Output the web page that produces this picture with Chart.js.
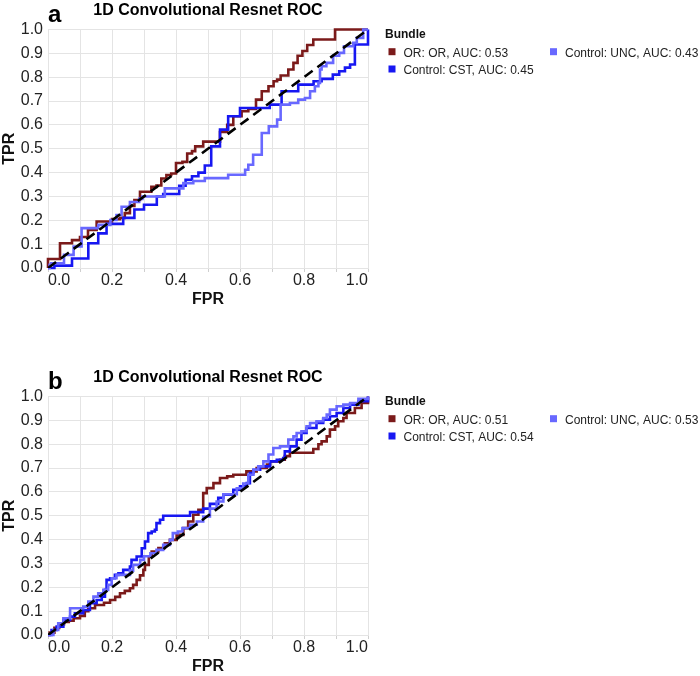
<!DOCTYPE html>
<html lang="en">
<head>
<meta charset="UTF-8">
<title>1D Convolutional Resnet ROC</title>
<style>
  body { margin: 0; background: #fff; }
  .page { position: relative; width: 700px; height: 676px; }
  .panel { position: absolute; left: 0; width: 700px; height: 309px; }
</style>
<script src="https://cdn.jsdelivr.net/npm/chart.js"></script>
</head>
<body>
<div class="page">
  <div class="panel" style="top:0"><canvas id="rocA"></canvas></div>
  <div class="panel" style="top:367px"><canvas id="rocB"></canvas></div>
</div>
<script>
// ROC points (tops of each vertical step)
const aOrFpr  = [0, 0, 0.0375, 0.075, 0.1, 0.125, 0.152, 0.2, 0.225, 0.24, 0.256, 0.27, 0.2875, 0.323, 0.339, 0.354, 0.37, 0.385, 0.4, 0.42, 0.435, 0.45, 0.46, 0.485, 0.5375, 0.56, 0.579, 0.605, 0.626, 0.65, 0.668, 0.689, 0.705, 0.716, 0.727, 0.751, 0.767, 0.78, 0.795, 0.81, 0.829, 0.897, 1];
const aOrTpr  = [0, 0.038, 0.104, 0.117, 0.13, 0.16, 0.195, 0.205, 0.21, 0.23, 0.26, 0.285, 0.32, 0.34, 0.346, 0.375, 0.39, 0.396, 0.44, 0.445, 0.48, 0.49, 0.51, 0.53, 0.57, 0.6, 0.636, 0.657, 0.667, 0.706, 0.741, 0.762, 0.783, 0.79, 0.807, 0.832, 0.86, 0.89, 0.91, 0.935, 0.958, 1, 1];
const aCstFpr = [0, 0.02, 0.075, 0.126, 0.157, 0.183, 0.235, 0.27, 0.3, 0.34, 0.36, 0.41, 0.43, 0.45, 0.47, 0.49, 0.51, 0.5375, 0.563, 0.6, 0.693, 0.73, 0.782, 0.83, 0.855, 0.89, 0.91, 0.928, 0.944, 0.959, 1];
const aCstTpr = [0, 0.01, 0.04, 0.104, 0.145, 0.185, 0.21, 0.245, 0.265, 0.3, 0.31, 0.345, 0.37, 0.385, 0.4, 0.43, 0.51, 0.58, 0.636, 0.671, 0.685, 0.741, 0.769, 0.783, 0.793, 0.811, 0.825, 0.84, 0.853, 0.937, 1];
const aUncFpr = [0, 0.005, 0.01, 0.05, 0.08, 0.105, 0.157, 0.195, 0.214, 0.23, 0.256, 0.285, 0.295, 0.365, 0.423, 0.454, 0.49, 0.563, 0.616, 0.626, 0.641, 0.668, 0.69, 0.716, 0.727, 0.756, 0.782, 0.803, 0.819, 0.834, 0.845, 0.85, 0.855, 0.87, 0.891, 0.91, 0.925, 0.954, 0.965, 0.985, 1];
const aUncTpr = [0, 0.013, 0.02, 0.055, 0.09, 0.167, 0.181, 0.201, 0.222, 0.257, 0.277, 0.29, 0.3, 0.334, 0.356, 0.365, 0.377, 0.391, 0.412, 0.433, 0.475, 0.566, 0.594, 0.622, 0.685, 0.692, 0.706, 0.713, 0.741, 0.762, 0.776, 0.832, 0.846, 0.86, 0.89, 0.902, 0.93, 0.944, 0.965, 1, 1];

const bOrFpr  = [0, 0.005, 0.02, 0.035, 0.05, 0.065, 0.08, 0.1, 0.115, 0.126, 0.147, 0.175, 0.194, 0.21, 0.225, 0.24, 0.256, 0.266, 0.277, 0.2875, 0.298, 0.303, 0.315, 0.324, 0.345, 0.365, 0.381, 0.402, 0.423, 0.438, 0.454, 0.47, 0.485, 0.496, 0.517, 0.5375, 0.56, 0.579, 0.62, 0.652, 0.684, 0.694, 0.725, 0.74, 0.756, 0.829, 0.845, 0.855, 0.871, 0.881, 0.897, 0.907, 0.923, 0.933, 0.959, 0.98, 1];
const bOrTpr  = [0, 0.01, 0.03, 0.045, 0.055, 0.06, 0.07, 0.08, 0.1, 0.112, 0.126, 0.135, 0.147, 0.16, 0.175, 0.185, 0.196, 0.21, 0.231, 0.25, 0.273, 0.294, 0.33, 0.35, 0.365, 0.385, 0.399, 0.42, 0.448, 0.476, 0.504, 0.525, 0.595, 0.616, 0.637, 0.658, 0.665, 0.672, 0.686, 0.7, 0.715, 0.728, 0.735, 0.75, 0.764, 0.78, 0.8, 0.812, 0.833, 0.861, 0.875, 0.896, 0.91, 0.931, 0.952, 0.973, 1];
const bCstFpr = [0, 0.011, 0.027, 0.048, 0.069, 0.084, 0.11, 0.131, 0.152, 0.168, 0.178, 0.183, 0.194, 0.209, 0.22, 0.235, 0.256, 0.261, 0.277, 0.293, 0.303, 0.313, 0.324, 0.334, 0.339, 0.35, 0.36, 0.444, 0.485, 0.506, 0.532, 0.548, 0.579, 0.6, 0.621, 0.631, 0.642, 0.663, 0.694, 0.715, 0.735, 0.74, 0.756, 0.777, 0.792, 0.808, 0.839, 0.86, 0.881, 0.902, 0.923, 0.944, 0.97, 1];
const bCstTpr = [0, 0.021, 0.035, 0.063, 0.077, 0.091, 0.105, 0.133, 0.147, 0.161, 0.189, 0.231, 0.238, 0.252, 0.259, 0.273, 0.287, 0.315, 0.329, 0.364, 0.392, 0.427, 0.434, 0.441, 0.469, 0.483, 0.5, 0.515, 0.53, 0.55, 0.575, 0.588, 0.609, 0.623, 0.637, 0.679, 0.693, 0.707, 0.728, 0.735, 0.742, 0.77, 0.791, 0.819, 0.847, 0.868, 0.889, 0.903, 0.917, 0.931, 0.952, 0.966, 0.98, 1];
const bUncFpr = [0, 0.017, 0.032, 0.048, 0.069, 0.11, 0.126, 0.142, 0.157, 0.173, 0.188, 0.199, 0.214, 0.256, 0.266, 0.288, 0.3, 0.32, 0.339, 0.36, 0.381, 0.39, 0.406, 0.42, 0.444, 0.465, 0.485, 0.506, 0.527, 0.548, 0.59, 0.61, 0.626, 0.642, 0.657, 0.673, 0.689, 0.704, 0.725, 0.751, 0.767, 0.777, 0.792, 0.808, 0.819, 0.839, 0.86, 0.871, 0.881, 0.902, 0.923, 0.944, 0.97, 1];
const bUncTpr = [0, 0.021, 0.049, 0.07, 0.112, 0.119, 0.14, 0.161, 0.175, 0.189, 0.21, 0.238, 0.252, 0.27, 0.294, 0.315, 0.33, 0.343, 0.357, 0.378, 0.399, 0.427, 0.434, 0.448, 0.462, 0.476, 0.497, 0.53, 0.56, 0.59, 0.615, 0.635, 0.672, 0.693, 0.707, 0.728, 0.757, 0.784, 0.791, 0.819, 0.833, 0.847, 0.854, 0.875, 0.889, 0.896, 0.91, 0.924, 0.945, 0.959, 0.966, 0.973, 0.99, 1];

const bundleNames = ['OR: OR', 'Control: CST', 'Control: UNC'];
const aucA = ['0.53', '0.45', '0.43'];
const aucB = ['0.51', '0.54', '0.53'];
const colors = ['#7b1a1a', '#1717f2', '#6868ff'];
const chanceFpr = [0, 1];
const chanceTpr = [0, 1];

const FONT = '"Liberation Sans", Arial, sans-serif';

function toPoints(xs, ys) {
    return xs.map((x, i) => ({ x: x, y: ys[i] }));
}

// panel letter, title and the "Bundle" legend
const panelText = {
    id: 'panelText',
    afterDraw(chart, args, opts) {
        const ctx = chart.ctx;
        const area = chart.chartArea;
        ctx.save();
        ctx.textBaseline = 'alphabetic';
        ctx.fillStyle = '#000';
        ctx.textAlign = 'left';
        ctx.font = 'bold 24px ' + FONT;
        ctx.fillText(opts.letter, area.left, 21.7);
        ctx.textAlign = 'center';
        ctx.font = 'bold 16px ' + FONT;
        ctx.fillText('1D Convolutional Resnet ROC', (area.left + area.right) / 2, 15);

        ctx.textAlign = 'left';
        ctx.font = 'bold 12px ' + FONT;
        ctx.fillStyle = '#111';
        ctx.fillText('Bundle', 385, 38.3);

        // grid spots for the three entries: OR, CST (col 1), UNC (col 2)
        const spots = [[388.5, 56.7], [388.5, 74], [550, 56.7]];
        ctx.font = '12px ' + FONT;
        bundleNames.forEach((name, i) => {
            const [x, y] = spots[i];
            ctx.fillStyle = colors[i];
            ctx.fillRect(x, y - 8.5, 7, 7);
            ctx.fillStyle = '#222';
            ctx.fillText(name + ', AUC: ' + opts.auc[i], x + 15, y);
        });
        ctx.restore();
    }
};

function makeChart(id, letter, auc, series) {
    const ctx = document.getElementById(id).getContext('2d');
    const datasets = series.map((s, i) => ({
        label: bundleNames[i],
        data: toPoints(s[0], s[1]),
        borderColor: colors[i],
        borderWidth: 2.6,
        stepped: 'before',
        pointRadius: 0,
        fill: false,
        clip: 2,
        order: 3 - i
    }));
    datasets.push({
        label: 'chance',
        data: toPoints(chanceFpr, chanceTpr),
        borderColor: '#000',
        borderWidth: 2.6,
        borderDash: [10, 6],
        pointRadius: 0,
        fill: false,
        order: 0
    });

    return new Chart(ctx, {
        type: 'line',
        data: { datasets: datasets },
        options: {
            animation: false,
            responsive: true,
            maintainAspectRatio: false,
            devicePixelRatio: 1,
            layout: { padding: { top: 29.5, right: 332, left: 0, bottom: 0 } },
            plugins: {
                legend: { display: false },
                tooltip: { enabled: false },
                panelText: { letter: letter, auc: auc }
            },
            scales: {
                x: {
                    type: 'linear',
                    min: 0,
                    max: 1,
                    afterFit: s => { s.height = 41; },
                    ticks: {
                        stepSize: 0.1,
                        autoSkip: false,
                        maxRotation: 0,
                        align: 'inner',
                        padding: -1,
                        color: '#222',
                        font: { size: 16, family: FONT },
                        callback: (v, i) => (i % 2 ? '' : v.toFixed(1))
                    },
                    grid: { color: '#e4e4e4', tickLength: 4, tickColor: '#cfcfcf' },
                    border: { color: '#e4e4e4' },
                    title: {
                        display: true,
                        text: 'FPR',
                        color: '#111',
                        font: { size: 16, weight: 'bold', family: FONT },
                        padding: { top: 0, bottom: 0 }
                    }
                },
                y: {
                    min: 0,
                    max: 1,
                    afterFit: s => { s.width = 48; },
                    ticks: {
                        stepSize: 0.1,
                        padding: 5,
                        color: '#222',
                        font: { size: 16, family: FONT },
                        callback: v => v.toFixed(1)
                    },
                    grid: { color: '#e4e4e4', drawTicks: false },
                    border: { color: '#e4e4e4' },
                    title: {
                        display: true,
                        text: 'TPR',
                        color: '#111',
                        font: { size: 16, weight: 'bold', family: FONT },
                        padding: { top: 0, bottom: 0 }
                    }
                }
            }
        },
        plugins: [panelText]
    });
}

makeChart('rocA', 'a', aucA, [[aOrFpr, aOrTpr], [aCstFpr, aCstTpr], [aUncFpr, aUncTpr]]);
makeChart('rocB', 'b', aucB, [[bOrFpr, bOrTpr], [bCstFpr, bCstTpr], [bUncFpr, bUncTpr]]);
</script>
</body>
</html>
